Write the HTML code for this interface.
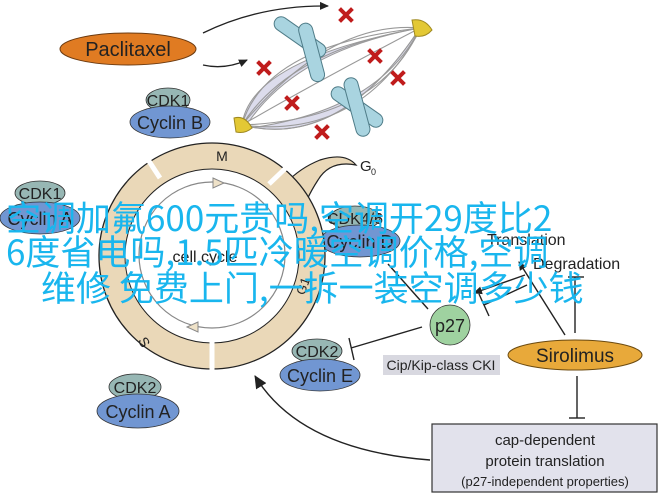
<!DOCTYPE html>
<html><head><meta charset="utf-8"><style>
html,body{margin:0;padding:0;background:#fff;}
#w{position:relative;width:659px;height:497px;overflow:hidden;font-family:"Liberation Sans",sans-serif;}
svg{position:absolute;left:0;top:0;}
.ov{position:absolute;color:#19b6ee;font-family:"Noto Sans CJK SC","Liberation Sans",sans-serif;font-size:35px;line-height:35px;white-space:nowrap;letter-spacing:0;}
</style></head><body><div id="w">
<svg width="659" height="497" viewBox="0 0 659 497">
<defs>
<marker id="ah" markerWidth="10" markerHeight="10" refX="8" refY="5" orient="auto" markerUnits="userSpaceOnUse"><path d="M0,1 L9,5 L0,9 Z" fill="#222"/></marker>
<marker id="ah2" markerWidth="14" markerHeight="14" refX="12" refY="7" orient="auto" markerUnits="userSpaceOnUse"><path d="M0,1 L13,7 L0,13 Z" fill="#222"/></marker>
</defs>
<ellipse cx="128" cy="49" rx="68" ry="16" fill="#e07b22" stroke="#6b3a10" stroke-width="1"/>
<text x="128" y="56" font-size="20" text-anchor="middle" fill="#222">Paclitaxel</text>
<path d="M203,33 Q260,5 328,6" fill="none" stroke="#222" stroke-width="1.3" marker-end="url(#ah)"/>
<path d="M203,65 Q225,70 247,60" fill="none" stroke="#222" stroke-width="1.3" marker-end="url(#ah)"/>
<path d="M242,125 Q250,60 420,28 Q300,50 250,120 Z" fill="#dcdcec" stroke="#999" stroke-width="1"/>
<path d="M242,125 Q340,150 420,28 Q380,110 250,128 Z" fill="#dcdcec" stroke="#999" stroke-width="1"/>
<g fill="none" stroke="#999" stroke-width="1.1">
<path d="M242,125 Q265,45 420,28"/><path d="M242,125 Q290,50 420,28"/><path d="M242,125 Q320,80 420,28"/>
<path d="M242,125 Q340,150 420,28"/><path d="M242,125 Q360,140 420,30"/><path d="M242,125 Q380,120 420,28"/>
<path d="M242,125 Q330,20 420,28"/>
</g>
<g fill="#a9d4e0" stroke="#4f7c88" stroke-width="1">
<rect x="270" y="30" width="60" height="14" rx="7" transform="rotate(35 300 37)"/>
<rect x="285" y="25" width="60" height="14" rx="7" transform="rotate(75 300 40)"/>
<rect x="327" y="100" width="60" height="14" rx="7" transform="rotate(35 357 107)"/>
<rect x="327" y="100" width="60" height="14" rx="7" transform="rotate(75 357 107)"/>
</g>
<path d="M412,20 Q425,18 432,30 Q425,38 415,36 Z" fill="#e3c834" stroke="#a08a20"/>
<path d="M234,118 Q245,115 252,128 Q245,134 236,132 Z" fill="#e3c834" stroke="#a08a20"/>
<g stroke="#c01c1c" stroke-width="4" stroke-linecap="square">
<path d="M341,10 L351,20 M351,10 L341,20"/><path d="M259,63 L269,73 M269,63 L259,73"/>
<path d="M370,51 L380,61 M380,51 L370,61"/><path d="M393,73 L403,83 M403,73 L393,83"/>
<path d="M287,98 L297,108 M297,98 L287,108"/><path d="M317,127 L327,137 M327,127 L317,137"/>
</g>
<g stroke="#333" stroke-width="0.8">
<ellipse cx="168" cy="100" rx="22" ry="12" fill="#97b7b4"/>
<ellipse cx="170" cy="122" rx="40" ry="16" fill="#7196d2"/>
<ellipse cx="40" cy="193" rx="25" ry="12" fill="#97b7b4"/>
<ellipse cx="40" cy="218" rx="40" ry="16" fill="#7196d2"/>
<ellipse cx="355" cy="218" rx="25" ry="12" fill="#97b7b4"/>
<ellipse cx="360" cy="241" rx="40" ry="16" fill="#7196d2"/>
<ellipse cx="317" cy="351" rx="25" ry="12" fill="#97b7b4"/>
<ellipse cx="320" cy="375" rx="40" ry="16" fill="#7196d2"/>
<ellipse cx="135" cy="387" rx="26" ry="13" fill="#97b7b4"/>
<ellipse cx="138" cy="411" rx="41" ry="17" fill="#7196d2"/>
</g>
<g font-size="16" text-anchor="middle" fill="#222">
<text x="168" y="106">CDK1</text><text x="170" y="129" font-size="18">Cyclin B</text>
<text x="40" y="199">CDK1</text><text x="40" y="225" font-size="18">Cyclin A</text>
<text x="355" y="224">CDK4/6</text><text x="360" y="248" font-size="18">Cyclin D</text>
<text x="317" y="357">CDK2</text><text x="320" y="382" font-size="18">Cyclin E</text>
<text x="135" y="393">CDK2</text><text x="138" y="418" font-size="18">Cyclin A</text>
</g>
<path d="M286,183 Q300,168 320,160 Q345,152 356,165 Q330,160 318,180 Q305,200 302,215 Z" fill="#ead8b8" stroke="#222" stroke-width="1.2"/>
<circle cx="212" cy="256" r="100" fill="none" stroke="#ead8b8" stroke-width="26"/>
<circle cx="212" cy="256" r="113" fill="none" stroke="#222" stroke-width="1.3"/>
<circle cx="212" cy="256" r="87" fill="none" stroke="#222" stroke-width="1"/>
<g stroke="#fff" stroke-width="5"><line x1="212" y1="340" x2="212" y2="372"/><line x1="143" y1="152" x2="160" y2="178"/><line x1="269" y1="184" x2="290" y2="164"/></g>
<circle cx="212" cy="255" r="73" fill="none" stroke="#888" stroke-width="1.2"/>
<path d="M213,178 L224,183 L213,188 Z" fill="#efe2c8" stroke="#888"/>
<path d="M198,322 L187,327 L198,332 Z" fill="#efe2c8" stroke="#888"/>
<text x="222" y="161" font-size="14" text-anchor="middle" fill="#222">M</text>
<text x="142" y="343" font-size="14" fill="#222" transform="rotate(60 142 338)">S</text>
<text x="296" y="296" font-size="13" fill="#222" transform="rotate(-70 300 290)">G1</text>
<text x="205" y="262" font-size="16" text-anchor="middle" fill="#222">cell cycle</text>
<text x="360" y="171" font-size="15" fill="#222">G</text><text x="371" y="175" font-size="9" fill="#222">0</text>
<text x="487" y="245" font-size="16" fill="#222">Translation</text>
<text x="533" y="269" font-size="16" fill="#222">Degradation</text>
<g stroke="#222" stroke-width="1.4" fill="none">
<line x1="428" y1="309" x2="388" y2="264"/>
<line x1="565" y1="335" x2="519" y2="262" marker-end="url(#ah)"/>
<line x1="525" y1="275" x2="474" y2="293" marker-end="url(#ah)"/>
<line x1="484" y1="305" x2="527" y2="285"/><line x1="479" y1="294" x2="489" y2="316"/>
<line x1="575" y1="333" x2="575" y2="277"/><line x1="568" y1="277" x2="584" y2="277"/>
<line x1="422" y1="327" x2="351" y2="348"/><line x1="349" y1="338" x2="354" y2="360"/>
<line x1="577" y1="376" x2="577" y2="418"/><line x1="569" y1="418" x2="585" y2="418"/>
<path d="M430,460 Q300,450 255,376" marker-end="url(#ah2)"/>
</g>
<circle cx="450" cy="325" r="20" fill="#9fd2a0" stroke="#333" stroke-width="0.8"/>
<text x="450" y="332" font-size="18" text-anchor="middle" fill="#222">p27</text>
<rect x="383" y="355" width="117" height="20" fill="#d8d8e0"/>
<text x="441" y="370" font-size="14" text-anchor="middle" fill="#222">Cip/Kip-class CKI</text>
<ellipse cx="575" cy="355" rx="67" ry="15" fill="#e8a93a" stroke="#6b4a10"/>
<text x="575" y="362" font-size="19" text-anchor="middle" fill="#222">Sirolimus</text>
<rect x="432" y="424" width="225" height="68" fill="#e2e2ec" stroke="#333" stroke-width="1.2"/>
<g font-size="15" text-anchor="middle" fill="#222">
<text x="545" y="445">cap-dependent</text><text x="545" y="466">protein translation</text>
<text x="545" y="486" font-size="13">(p27-independent properties)</text></g>
</svg>
<div class="ov" style="left:6px;top:199px;">空调加氟600元贵吗,空调开29度比2</div>
<div class="ov" style="left:6px;top:233px;">6度省电吗,1.5匹冷暖空调价格,空调</div>
<div class="ov" style="left:41px;top:269px;">维修 免费上门,一拆一装空调多少钱</div>
</div></body></html>
